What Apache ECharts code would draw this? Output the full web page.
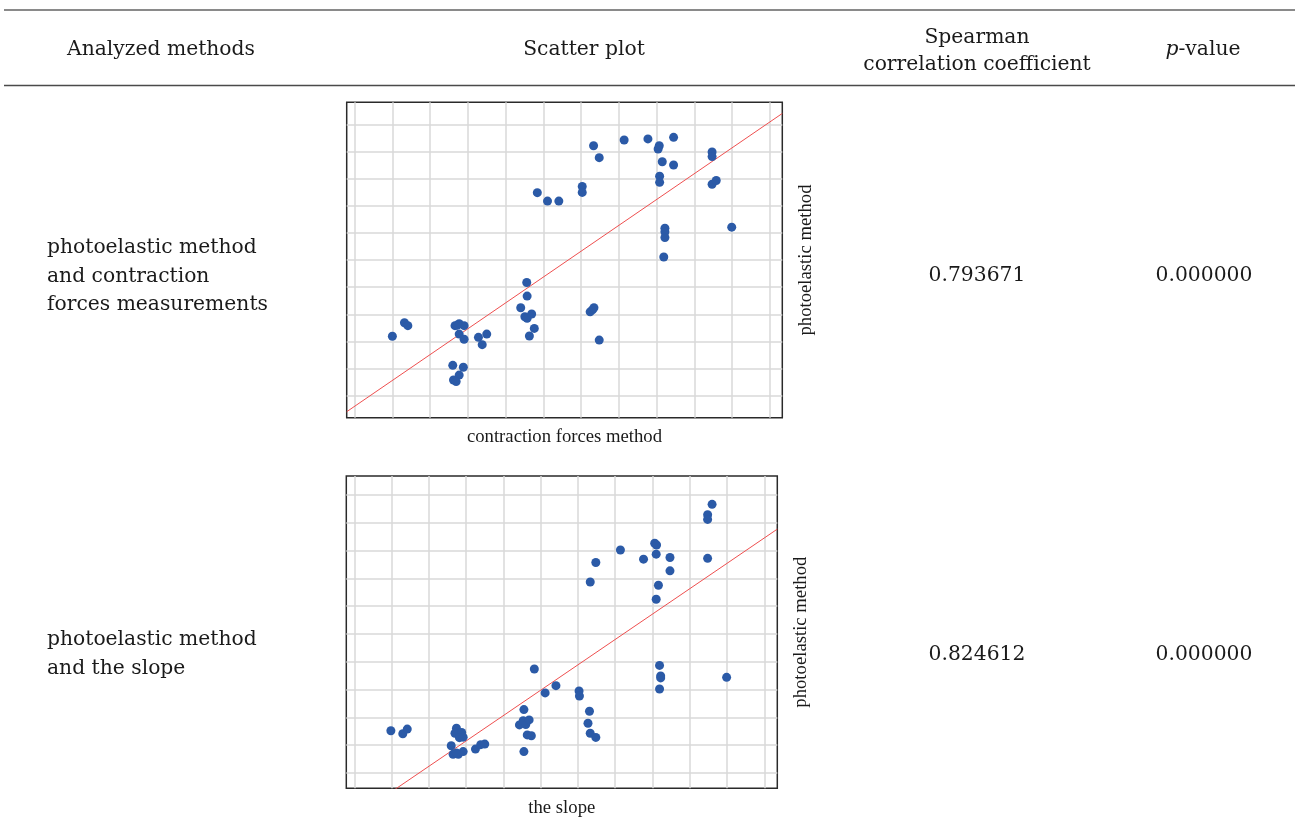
<!DOCTYPE html>
<html>
<head>
<meta charset="utf-8">
<script src="https://cdn.jsdelivr.net/npm/echarts@6/dist/echarts.min.js"></script>
<style>
  html, body { margin: 0; padding: 0; background: #fff; }
  #chart { width: 1295px; height: 837px; }
</style>
</head>
<body>
<div id="chart"></div>
<script>
// Row 1: contraction forces method (x) vs photoelastic method (y)
const contractionX = [1.0, 1.32, 1.41, 2.66, 2.77, 2.9, 2.72, 2.77, 2.9, 3.28, 3.5, 3.38, 2.6, 2.88, 2.77, 2.62, 2.69,
  4.56, 4.57, 4.4, 4.51, 4.57, 4.69, 4.76, 4.63, 6.24, 6.3, 6.34, 6.48,
  4.84, 5.11, 5.41, 6.03, 6.03, 6.33, 6.48, 7.14, 7.77, 8.07, 8.04, 8.45, 8.15, 8.45, 8.08, 8.08,
  8.22, 8.22, 8.22, 8.19, 9.47, 9.47, 9.47, 9.58, 9.99];
const photoelasticY1 = [2.19, 2.69, 2.58, 2.58, 2.65, 2.58, 2.6, 2.27, 2.08, 2.15, 2.27, 1.88, 1.12, 1.05, 0.76, 0.58, 0.52,
  4.17, 3.67, 3.24, 2.91, 2.85, 3.01, 2.48, 2.2, 3.09, 3.16, 3.24, 2.05,
  7.48, 7.17, 7.17, 7.71, 7.49, 9.21, 8.77, 9.42, 9.46, 9.21, 9.09, 9.52, 8.62, 8.5, 8.09, 7.86,
  6.17, 6.04, 5.83, 5.11, 8.98, 8.81, 7.79, 7.93, 6.21];
const fitX1 = [-0.21, 11.33];
const fitY1 = [-0.59, 10.4];

// Row 2: the slope (x) vs photoelastic method (y)
const slopeX = [0.98, 1.3, 1.42, 2.74, 2.83, 2.7, 2.88, 2.82, 2.92, 2.6, 2.65, 2.79, 2.92, 2.74, 3.25, 3.39, 3.5,
  4.55, 4.43, 4.53, 4.6, 4.69, 4.64, 4.75, 4.55, 4.83, 5.12, 5.41, 6.03, 6.04, 6.31, 6.27, 6.33, 6.48,
  6.33, 6.48, 7.14, 7.76, 8.06, 8.11, 8.1, 8.47, 8.47, 8.16, 8.1,
  8.19, 8.22, 8.22, 8.19, 9.6, 9.48, 9.48, 9.48, 9.99];
const photoelasticY2 = [1.52, 1.41, 1.58, 1.61, 1.31, 1.43, 1.46, 1.27, 1.29, 0.98, 0.67, 0.67, 0.77, 0.72, 0.86, 1.02, 1.04,
  2.28, 1.73, 1.88, 1.74, 1.91, 1.37, 1.34, 0.77, 3.74, 2.88, 3.14, 2.95, 2.77, 2.22, 1.79, 1.43, 1.28,
  6.87, 7.57, 8.02, 7.69, 8.26, 8.2, 7.87, 7.75, 7.27, 6.75, 6.25,
  3.87, 3.49, 3.42, 3.02, 9.66, 9.29, 9.12, 7.72, 3.44];
const fitX2 = [-0.216, 11.35];
const fitY2 = [-1.78, 8.77];

// Grid line positions (no tick labels are printed)
const gridTicksX = [0, 1, 2, 3, 4, 5, 6, 7, 8, 9, 10, 11];
const gridTicksY = [0, 1, 2, 3, 4, 5, 6, 7, 8, 9, 10];

// Table text
const headers = ['Analyzed methods', 'Scatter plot', 'Spearman', 'correlation coefficient'];
const rowLabels = [
  ['photoelastic method', 'and contraction', 'forces measurements'],
  ['photoelastic method', 'and the slope']
];
const xNames = ['contraction forces method', 'the slope'];
const yName = 'photoelastic method';
const spearman = ['0.793671', '0.824612'];
const pValues = ['0.000000', '0.000000'];

const zip = (xs, ys) => xs.map((x, i) => [x, ys[i]]);

const TXT = '#1a1a1a';
const SERIF = '"DejaVu Serif", serif';
const AXIS_FONT = '"Liberation Serif", "Times New Roman", serif';

function gridMarkLines() {
  return {
    silent: true,
    z: 1,
    symbol: ['none', 'none'],
    label: { show: false },
    emphasis: { disabled: true },
    lineStyle: { color: '#d9d9d9', width: 1.5, type: 'solid' },
    data: [
      ...gridTicksX.map(v => ({ xAxis: v })),
      ...gridTicksY.map(v => ({ yAxis: v }))
    ]
  };
}

function axisPair(i, xr, yr, xName) {
  const common = {
    axisLine: { show: false },
    axisTick: { show: false },
    axisLabel: { show: false },
    splitLine: { show: false }
  };
  return {
    x: Object.assign({
      type: 'value', gridIndex: i, min: xr[0], max: xr[1],
      name: xName, nameLocation: 'middle', nameGap: 10,
      nameTextStyle: { fontFamily: AXIS_FONT, fontSize: 18.7, color: TXT, verticalAlign: 'top' }
    }, common),
    y: Object.assign({
      type: 'value', gridIndex: i, min: yr[0], max: yr[1], position: 'right',
      name: yName, nameLocation: 'middle', nameGap: 14, nameRotate: 90,
      nameTextStyle: { fontFamily: AXIS_FONT, fontSize: 18.7, color: TXT }
    }, common)
  };
}

const a1 = axisPair(0, [-0.21, 11.33], [-0.81, 10.81], xNames[0]);
const a2 = axisPair(1, [-0.216, 11.35], [-0.55, 10.68], xNames[1]);

function textEl(text, x, y, extra) {
  return {
    type: 'text', silent: true,
    style: Object.assign({
      text, x, y, font: '20.3px ' + SERIF, fill: TXT,
      align: 'center', verticalAlign: 'middle',
      textAlign: 'center', textVerticalAlign: 'middle'
    }, extra || {})
  };
}

const graphics = [
  { type: 'line', silent: true, shape: { x1: 4, y1: 10, x2: 1295, y2: 10 }, style: { stroke: '#8a8a8a', lineWidth: 2 } },
  { type: 'line', silent: true, shape: { x1: 4, y1: 85.5, x2: 1295, y2: 85.5 }, style: { stroke: '#4a4a4a', lineWidth: 1.5 } },
  textEl(headers[0], 161, 50),
  textEl(headers[1], 584, 50),
  textEl(headers[2], 977, 38),
  textEl(headers[3], 977, 65),
  {
    type: 'text', silent: true,
    style: {
      text: '{i|p}-value', x: 1203, y: 50, font: '20.3px ' + SERIF, fill: TXT,
      align: 'center', verticalAlign: 'middle', textAlign: 'center', textVerticalAlign: 'middle',
      rich: { i: { fontStyle: 'italic', fontFamily: SERIF, fontSize: 20.3, fill: TXT } }
    }
  },
  textEl(spearman[0], 977, 276),
  textEl(pValues[0], 1204, 276),
  textEl(spearman[1], 977, 655),
  textEl(pValues[1], 1204, 655)
];
rowLabels[0].forEach((t, k) => graphics.push(textEl(t, 47, 248 + k * 28.5, { align: 'left', textAlign: 'left' })));
rowLabels[1].forEach((t, k) => graphics.push(textEl(t, 47, 640 + k * 28.5, { align: 'left', textAlign: 'left' })));

function plotSeries(i, xs, ys, fx, fy) {
  return [
    {
      type: 'line', xAxisIndex: i, yAxisIndex: i, z: 1,
      data: zip(fx, fy), symbol: 'none', silent: true,
      lineStyle: { opacity: 0 },
      markLine: gridMarkLines()
    },
    {
      type: 'line', xAxisIndex: i, yAxisIndex: i, z: 3,
      data: zip(fx, fy), symbol: 'none', silent: true, clip: true,
      lineStyle: { color: '#ee4f4f', width: 1 }
    },
    {
      type: 'scatter', xAxisIndex: i, yAxisIndex: i, z: 4,
      data: zip(xs, ys), symbol: 'circle', symbolSize: 9,
      itemStyle: { color: '#2b5aa7', opacity: 1 }
    }
  ];
}

const chart = echarts.init(document.getElementById('chart'), null, { renderer: 'canvas' });
chart.setOption({
  animation: false,
  backgroundColor: '#ffffff',
  grid: [
    { left: 346.7, top: 102.3, width: 435.6, height: 315.4, show: true, borderColor: '#2a2a2a', borderWidth: 1.5, backgroundColor: '#fff', containLabel: false, outerBoundsMode: 'none' },
    { left: 346.3, top: 476, width: 431, height: 312.3, show: true, borderColor: '#2a2a2a', borderWidth: 1.5, backgroundColor: '#fff', containLabel: false, outerBoundsMode: 'none' }
  ],
  xAxis: [a1.x, a2.x],
  yAxis: [a1.y, a2.y],
  series: [
    ...plotSeries(0, contractionX, photoelasticY1, fitX1, fitY1),
    ...plotSeries(1, slopeX, photoelasticY2, fitX2, fitY2)
  ],
  graphic: { elements: graphics }
});
</script>
</body>
</html>
